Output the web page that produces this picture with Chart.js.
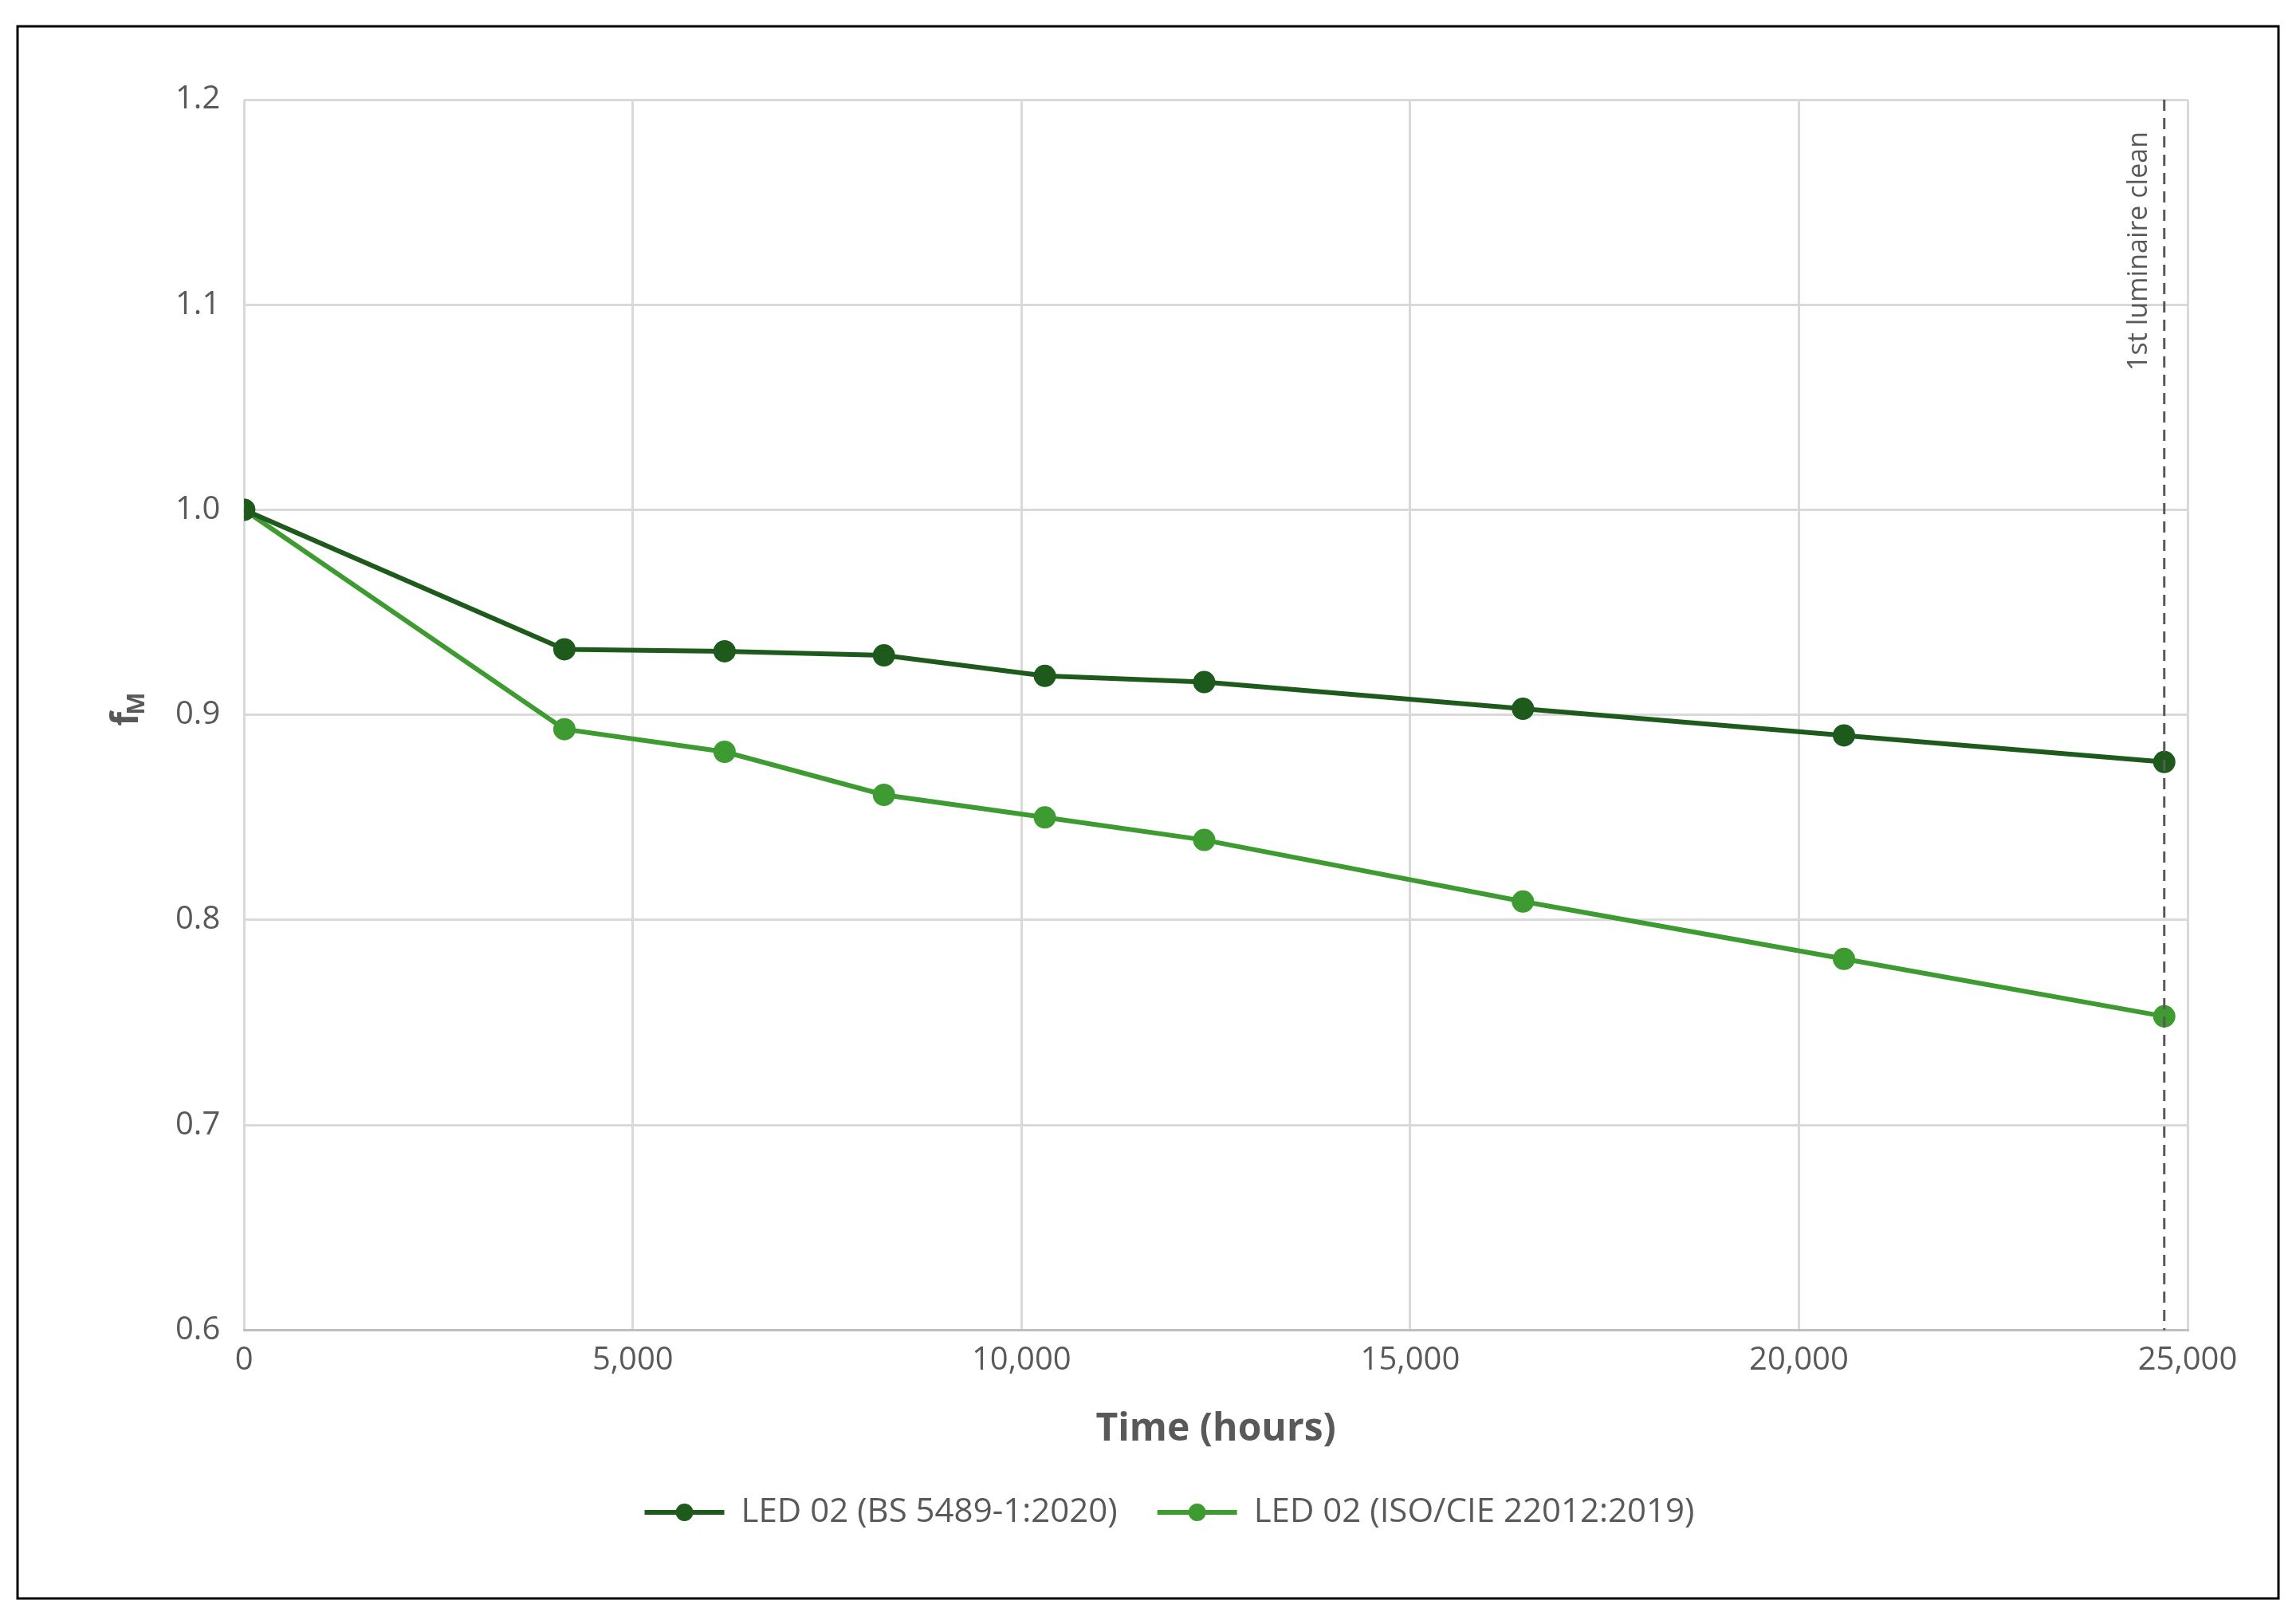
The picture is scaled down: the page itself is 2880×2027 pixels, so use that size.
<!DOCTYPE html>
<html>
<head>
<meta charset="utf-8">
<script src="https://cdn.jsdelivr.net/npm/chart.js@4"></script>
<style>
  body { margin: 0; background: #fff; }
  canvas { display: block; }
</style>
</head>
<body>
<canvas id="fmChart" width="2880" height="2027"></canvas>
<script>
// values
const hours = [0, 4120, 6180, 8230, 10300, 12350, 16450, 20580, 24700];
const bsValues = [1.0, 0.932, 0.931, 0.929, 0.919, 0.916, 0.903, 0.890, 0.877];
const isoValues = [1.0, 0.893, 0.882, 0.861, 0.850, 0.839, 0.809, 0.781, 0.753];
const cleanAt = 24700;
const seriesNames = ["LED 02 (BS 5489-1:2020)", "LED 02 (ISO/CIE 22012:2019)"];

const FONT = "'Open Sans', 'Liberation Sans', sans-serif";
const TEXT = "#595959";

// outer frame, the cleaning marker, legend dots and the f_M axis title
const extras = {
  id: "extras",
  afterDraw(chart) {
    const { ctx, chartArea, scales } = chart;
    ctx.save();
    ctx.strokeStyle = "#000";
    ctx.lineWidth = 3;
    ctx.strokeRect(22, 33, 2836, 1972);

    const x = scales.x.getPixelForValue(cleanAt);
    ctx.strokeStyle = "#595959";
    ctx.lineWidth = 3;
    ctx.setLineDash([14, 9]);
    ctx.beginPath();
    ctx.moveTo(x, chartArea.top);
    ctx.lineTo(x, chartArea.bottom);
    ctx.stroke();
    ctx.setLineDash([]);

    ctx.translate(x - 14, chartArea.top + 40);
    ctx.rotate(-Math.PI / 2);
    ctx.fillStyle = TEXT;
    ctx.font = "34px " + FONT;
    ctx.textAlign = "right";
    ctx.textBaseline = "bottom";
    ctx.fillText("1st luminaire clean", 0, 0);
    ctx.restore();

    // dot in the middle of each legend line
    const lg = chart.legend;
    lg.legendHitBoxes.forEach((box, i) => {
      ctx.save();
      ctx.fillStyle = chart.data.datasets[i].borderColor;
      ctx.beginPath();
      ctx.arc(box.left + 50, box.top + box.height / 2, 11, 0, Math.PI * 2);
      ctx.fill();
      ctx.restore();
    });

    ctx.save();
    ctx.translate(160, (chartArea.top + chartArea.bottom) / 2);
    ctx.rotate(-Math.PI / 2);
    ctx.fillStyle = TEXT;
    ctx.font = "bold 46px " + FONT;
    ctx.textBaseline = "middle";
    ctx.textAlign = "left";
    ctx.fillText("f", -14, 0);
    ctx.font = "bold 30px " + FONT;
    ctx.fillText("M", 0, 12);
    ctx.restore();
  }
};

function makeSet(label, values, color) {
  return {
    label: label,
    data: hours.map((h, i) => ({ x: h, y: values[i] })),
    borderColor: color,
    backgroundColor: color,
    borderWidth: 6,
    pointRadius: 11,
    pointHoverRadius: 11,
    tension: 0
  };
}

new Chart(document.getElementById("fmChart").getContext("2d"), {
  type: "line",
  data: {
    datasets: [
      makeSet(seriesNames[0], bsValues, "#1e5a1c"),
      makeSet(seriesNames[1], isoValues, "#3d9b31")
    ]
  },
  options: {
    responsive: false,
    animation: false,
    layout: { padding: { left: 190, right: 136, top: 125, bottom: 99 } },
    plugins: {
      tooltip: { enabled: false },
      legend: {
        position: "bottom",
        labels: {
          color: TEXT,
          font: { size: 42, family: FONT },
          boxWidth: 100,
          boxHeight: 6,
          padding: 50,
          generateLabels(chart) {
            return chart.data.datasets.map((d, i) => ({
              text: d.label, fillStyle: d.borderColor, strokeStyle: d.borderColor,
              lineWidth: 0, datasetIndex: i, fontColor: TEXT
            }));
          }
        }
      }
    },
    scales: {
      x: {
        type: "linear",
        min: 0, max: 25000,
        ticks: { stepSize: 5000, color: TEXT, font: { size: 40, family: FONT }, padding: 14 },
        grid: { color: "#d9d9d9", lineWidth: 3, drawTicks: false },
        border: { color: "#bfbfbf", width: 3 },
        title: { display: true, text: "Time (hours)", color: TEXT, font: { size: 48, weight: "bold", family: FONT }, padding: { top: 20 } }
      },
      y: {
        min: 0.6, max: 1.2,
        ticks: { stepSize: 0.1, color: TEXT, font: { size: 40, family: FONT }, padding: 30, callback: v => v.toFixed(1) },
        grid: { color: "#d9d9d9", lineWidth: 3, drawTicks: false },
        border: { display: false }
      }
    }
  },
  plugins: [extras]
});
</script>
</body>
</html>
